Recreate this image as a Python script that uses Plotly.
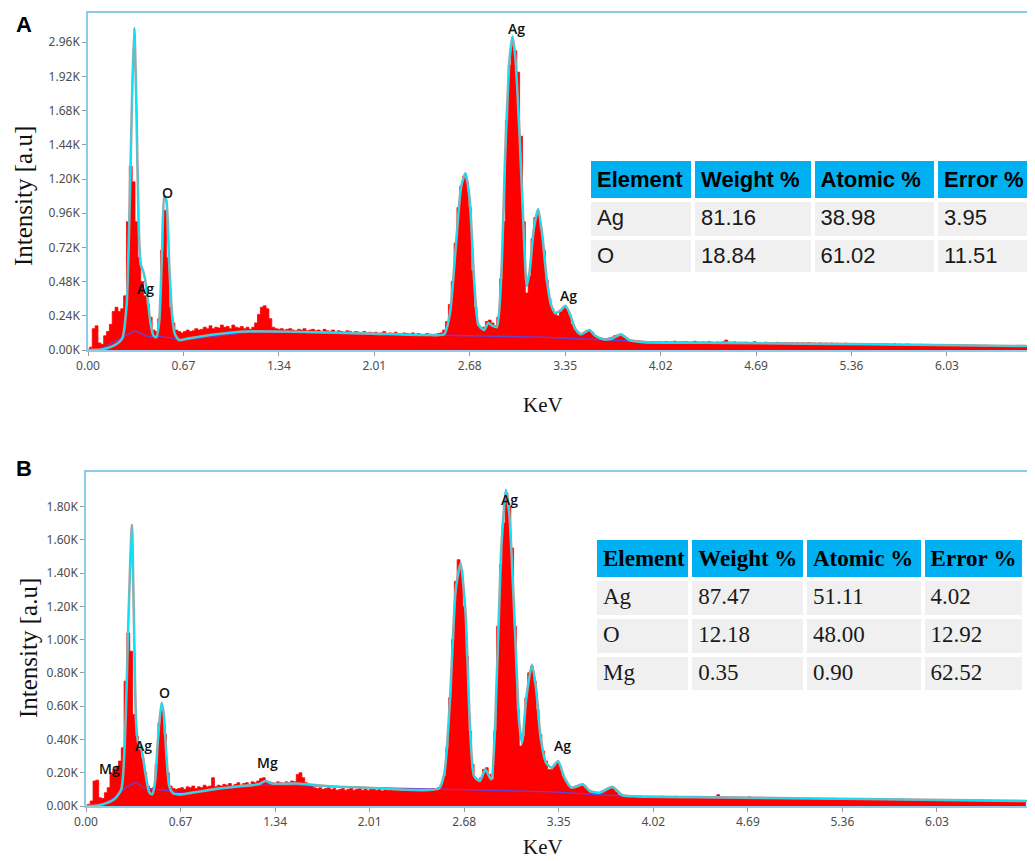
import plotly.graph_objects as go

# ---------------- data ----------------
CHANNEL_START = 0.0   # keV
CHANNEL_WIDTH = 0.02  # keV
# Panel A measured spectrum (counts per channel, channels 0.00 .. 6.66 keV)
counts_a = [
    0, 20, 150, 170, 50, 40, 100, 130, 180, 270,
    300, 270, 290, 380, 900, 1290, 1180, 900, 650, 480,
    380, 320, 230, 140, 130, 220, 700, 980, 650, 300,
    190, 140, 130, 120, 130, 140, 130, 135, 150, 140,
    145, 160, 150, 170, 150, 160, 155, 175, 160, 165,
    150, 175, 160, 155, 165, 150, 160, 145, 160, 190,
    250, 300, 310, 290, 220, 160, 150, 145, 150, 140,
    145, 150, 140, 135, 145, 140, 150, 135, 140, 145,
    135, 140, 130, 145, 135, 130, 140, 125, 135, 130,
    125, 135, 130, 120, 130, 125, 120, 130, 115, 125,
    120, 125, 115, 120, 130, 115, 120, 110, 125, 115,
    110, 120, 115, 110, 120, 105, 115, 110, 105, 115,
    110, 105, 110, 115, 120, 140, 200, 320, 480, 750,
    1000, 1150, 1220, 1180, 1000, 560, 300, 170, 150, 160,
    200, 210, 190, 170, 230, 500, 900, 1610, 2000, 2150,
    2100, 1950, 1500, 900, 400, 520, 780, 930, 970, 850,
    700, 490, 360, 290, 250, 240, 270, 300, 290, 250,
    180, 140, 115, 110, 120, 135, 140, 125, 100, 90,
    85, 80, 80, 85, 90, 100, 105, 110, 100, 80,
    65, 60, 58, 62, 55, 60, 57, 54, 60, 56,
    55, 58, 52, 60, 54, 56, 62, 53, 57, 55,
    58, 54, 52, 61, 55, 53, 57, 52, 59, 54,
    52, 56, 51, 58, 70, 55, 50, 57, 52, 54,
    50, 55, 52, 49, 58, 51, 53, 50, 55, 49,
    52, 48, 54, 50, 47, 53, 49, 51, 46, 52,
    48, 50, 45, 52, 47, 49, 44, 50, 46, 48,
    45, 49, 43, 47, 45, 42, 48, 44, 46, 42,
    44, 41, 46, 42, 40, 45, 41, 43, 39, 44,
    40, 42, 38, 43, 39, 41, 37, 40, 42, 37,
    39, 36, 40, 37, 35, 39, 36, 38, 34, 37,
    35, 33, 37, 34, 32, 36, 33, 31, 35, 32,
    31, 34, 30, 32, 29, 33, 30, 28, 31, 29,
    28, 30, 27, 29, 28, 26, 29, 27, 25, 28,
    26, 25, 26, 24,
]
# Panel B measured spectrum
counts_b = [
    0, 10, 30, 150, 155, 50, 45, 80, 110, 200,
    220, 240, 270, 350, 750, 1040, 930, 550, 420, 340,
    290, 200, 120, 100, 110, 250, 500, 580, 430, 200,
    120, 105, 100, 105, 110, 100, 115, 110, 120, 105,
    115, 110, 125, 115, 120, 170, 115, 125, 120, 130,
    125, 135, 120, 130, 140, 125, 135, 140, 130, 145,
    140, 150, 165, 170, 150, 145, 140, 135, 145, 140,
    135, 145, 140, 150, 145, 190, 200, 170, 140, 130,
    120, 110, 105, 110, 100, 105, 110, 100, 105, 95,
    100, 105, 95, 100, 110, 95, 100, 105, 95, 100,
    95, 100, 105, 95, 100, 90, 100, 95, 105, 95,
    100, 95, 90, 100, 95, 105, 95, 100, 95, 90,
    100, 95, 100, 105, 100, 110, 130, 180, 350, 650,
    1000, 1350, 1480, 1420, 1200, 900, 450, 250, 160, 150,
    170, 220, 230, 190, 160, 450, 1080, 1450, 1700, 1880,
    1800, 1550, 1080, 580, 360, 420, 650, 800, 840, 750,
    580, 430, 330, 270, 220, 220, 240, 260, 240, 180,
    150, 120, 110, 105, 110, 125, 130, 110, 90, 80,
    75, 75, 80, 85, 95, 105, 110, 105, 85, 65,
    60, 57, 62, 55, 58, 54, 60, 56, 53, 58,
    55, 52, 57, 54, 59, 53, 56, 52, 55, 58,
    53, 56, 51, 55, 52, 57, 54, 50, 55, 53,
    51, 55, 50, 53, 68, 52, 49, 54, 51, 50,
    53, 49, 52, 48, 51, 55, 48, 50, 47, 52,
    49, 47, 51, 46, 50, 48, 45, 49, 47, 44,
    48, 45, 47, 44, 46, 43, 47, 45, 42, 46,
    44, 42, 45, 41, 43, 46, 41, 43, 40, 44,
    42, 40, 43, 39, 41, 44, 39, 41, 38, 42,
    40, 38, 41, 37, 40, 36, 39, 41, 37, 38,
    36, 39, 35, 37, 34, 38, 36, 33, 37, 35,
    34, 36, 33, 35, 32, 34, 31, 35, 33, 31,
    33, 30, 32, 29, 31, 33, 30, 28, 31, 29,
    30, 28, 29, 27, 30, 28, 26, 29, 27, 28,
    26, 28, 25, 27,
]

# Fitted envelope (cyan/grey) and background (purple)
fit_a_kev = [0.0, 0.10, 0.18, 0.24, 0.27, 0.29, 0.31, 0.325, 0.34, 0.355, 0.37, 0.385, 0.40, 0.42, 0.44,
             0.46, 0.48, 0.50, 0.52, 0.535, 0.55, 0.57, 0.59, 0.61, 0.64, 0.70, 0.90, 1.10, 1.30, 1.60,
             2.00, 2.40, 2.50, 2.54, 2.58, 2.62, 2.65, 2.68, 2.71, 2.74, 2.78, 2.81, 2.84, 2.87, 2.90,
             2.93, 2.96, 2.98, 3.00, 3.03, 3.06, 3.08, 3.10, 3.13, 3.16, 3.19, 3.22, 3.25, 3.28, 3.32,
             3.35, 3.38, 3.42, 3.46, 3.52, 3.56, 3.62, 3.68, 3.74, 3.80, 3.90, 4.50, 5.50, 6.66]
fit_a_cts = [0, 5, 30, 80, 300, 900, 1800, 2260, 1700, 900, 600, 560, 500, 350, 180,
             100, 90, 200, 700, 1080, 1050, 600, 250, 110, 70, 80, 110, 130, 130, 125,
             115, 105, 110, 250, 700, 1150, 1240, 1050, 500, 180, 140, 190, 170, 160, 500,
             1400, 2050, 2200, 2050, 1500, 800, 450, 550, 850, 990, 800, 500, 320, 260, 280,
             310, 260, 150, 110, 140, 100, 75, 80, 110, 70, 55, 50, 40, 27]
bkg_a_kev = [0.0, 0.08, 0.15, 0.22, 0.28, 0.33, 0.36, 0.42, 0.50, 0.58, 0.64, 0.80, 1.00, 1.13, 1.40,
             2.00, 2.60, 3.20, 3.65, 4.00, 5.00, 6.00, 6.66]
bkg_a_cts = [0, 0, 40, 80, 110, 135, 120, 95, 95, 85, 70, 85, 110, 125, 125,
             115, 105, 90, 70, 55, 45, 35, 27]

fit_b_kev = [0.0, 0.05, 0.12, 0.20, 0.25, 0.28, 0.30, 0.325, 0.34, 0.355, 0.37, 0.39, 0.41, 0.43, 0.45,
             0.47, 0.49, 0.51, 0.535, 0.55, 0.57, 0.59, 0.62, 0.67, 0.90, 1.10, 1.22, 1.27, 1.32, 1.50,
             1.70, 2.00, 2.50, 2.54, 2.58, 2.62, 2.655, 2.69, 2.72, 2.75, 2.79, 2.83, 2.87, 2.90, 2.94,
             2.975, 3.00, 3.04, 3.07, 3.09, 3.12, 3.16, 3.19, 3.22, 3.26, 3.30, 3.345, 3.39, 3.44, 3.52,
             3.57, 3.64, 3.73, 3.80, 3.90, 4.50, 5.50, 6.67]
fit_b_cts = [0, 0, 10, 40, 100, 500, 1100, 1690, 1100, 500, 380, 350, 260, 150, 80,
             70, 150, 400, 620, 560, 300, 120, 75, 70, 100, 120, 130, 150, 135, 135,
             120, 110, 105, 200, 650, 1300, 1460, 1150, 500, 180, 150, 220, 160, 500, 1500,
             1900, 1750, 1050, 500, 380, 650, 850, 700, 420, 260, 230, 270, 170, 110, 130,
             90, 80, 115, 65, 58, 52, 42, 30]
bkg_b_kev = [0.0, 0.10, 0.20, 0.28, 0.36, 0.40, 0.50, 0.60, 0.67, 0.90, 1.20, 1.50, 2.00, 2.60, 3.30,
             3.70, 4.00, 5.00, 6.00, 6.67]
bkg_b_cts = [0, 0, 50, 110, 145, 110, 100, 90, 75, 95, 125, 125, 110, 100, 85,
             65, 55, 45, 35, 30]

# Peak labels
labels_a = ["Ag", "O", "Ag", "Ag"]
labels_a_kev = [0.407, 0.555, 3.005, 3.37]
labels_a_cts = [435, 1105, 2255, 380]
labels_b = ["Mg", "Ag", "O", "Mg", "Ag", "Ag"]
labels_b_kev = [0.17, 0.404, 0.555, 1.283, 3.004, 3.373]
labels_b_cts = [225, 361, 680, 262, 1839, 361]

# Axes ticks
x_ticks = [0.00, 0.67, 1.34, 2.01, 2.68, 3.35, 4.02, 4.69, 5.36, 6.03]
y_ticks_a = [0, 240, 480, 720, 960, 1200, 1440, 1680, 1920, 2160]
y_text_a = ["0.00K", "0.24K", "0.48K", "0.72K", "0.96K", "1.20K", "1.44K", "1.68K", "1.92K", "2.96K"]
y_ticks_b = [0, 200, 400, 600, 800, 1000, 1200, 1400, 1600, 1800]
y_text_b = ["0.00K", "0.20K", "0.40K", "0.60K", "0.80K", "1.00K", "1.20K", "1.40K", "1.60K", "1.80K"]

# Quantification tables
tbl_header = ["Element", "Weight %", "Atomic %", "Error %"]
tbl_a_element = ["Ag", "O"]
tbl_a_weight = ["81.16", "18.84"]
tbl_a_atomic = ["38.98", "61.02"]
tbl_a_error = ["3.95", "11.51"]
tbl_b_element = ["Ag", "O", "Mg"]
tbl_b_weight = ["87.47", "12.18", "0.35"]
tbl_b_atomic = ["51.11", "48.00", "0.90"]
tbl_b_error = ["4.02", "12.92", "62.52"]

# ---------------- figure ----------------
# The page body keeps an 8px margin, so the figure is sized to fit the 1035x861 window exactly.
OX, OY = 8, 8
W, H = 1035 - OX, 861 - OY
energy = [round(CHANNEL_START + CHANNEL_WIDTH * i, 2) for i in range(len(counts_a))]

RED = "#ff0000"
CYAN = "#00e8ff"
GREY = "#a3a3a3"
PURPLE = "#6a3fd2"
FRAME = "#8ecbea"

fig = go.Figure()

def add_panel(counts, fk, fc, bk, bc, xa, ya):
    fig.add_trace(go.Scatter(x=energy, y=counts, mode="lines", line=dict(color=RED, width=0.8, shape="hvh"),
                             fill="tozeroy", fillcolor=RED, xaxis=xa, yaxis=ya, hoverinfo="skip"))
    fig.add_trace(go.Scatter(x=bk, y=bc, mode="lines", line=dict(color=PURPLE, width=1.4),
                             xaxis=xa, yaxis=ya, hoverinfo="skip"))
    fig.add_trace(go.Scatter(x=fk, y=fc, mode="lines", line=dict(color=GREY, width=2.6, shape="spline", smoothing=0.6),
                             xaxis=xa, yaxis=ya, hoverinfo="skip"))
    fig.add_trace(go.Scatter(x=fk, y=fc, mode="lines", line=dict(color=CYAN, width=1.3, shape="spline", smoothing=0.6),
                             xaxis=xa, yaxis=ya, hoverinfo="skip"))

add_panel(counts_a, fit_a_kev, fit_a_cts, bkg_a_kev, bkg_a_cts, "x", "y")
add_panel(counts_b, fit_b_kev, fit_b_cts, bkg_b_kev, bkg_b_cts, "x2", "y2")

def px(x):
    return (x - OX) / W

def py(y):
    return 1 - (y - OY) / H

tick_font = dict(family="Noto Sans", size=12, color="#4d4d4d")
axis_common = dict(showline=True, mirror=True, linecolor=FRAME, linewidth=1.5, showgrid=False, zeroline=False,
                   ticks="outside", ticklen=4, tickcolor="#9a9a9a", tickfont=tick_font, automargin=False)

fig.update_layout(
    width=W, height=H, autosize=False,
    margin=dict(l=0, r=0, t=0, b=0, autoexpand=False),
    paper_bgcolor="white", plot_bgcolor="white", showlegend=False,
    xaxis=dict(domain=[px(88), px(1033)], range=[0, 6.634], anchor="y", tickvals=x_ticks,
               ticktext=[f"{v:.2f}" for v in x_ticks], **axis_common),
    yaxis=dict(domain=[py(350), py(13)], range=[0, 2365], anchor="x", tickvals=y_ticks_a,
               ticktext=y_text_a, **axis_common),
    xaxis2=dict(domain=[px(86), px(1027)], range=[0, 6.668], anchor="y2", tickvals=x_ticks,
                ticktext=[f"{v:.2f}" for v in x_ticks], **axis_common),
    yaxis2=dict(domain=[py(806), py(472)], range=[0, 2007], anchor="x2", tickvals=y_ticks_b,
                ticktext=y_text_b, **axis_common),
)

label_font = dict(family="Open Sans", size=14, color="#111111", weight=600)
for t, x, y in zip(labels_a, labels_a_kev, labels_a_cts):
    fig.add_annotation(x=x, y=y, xref="x", yref="y", text=t, showarrow=False, font=label_font,
                       xanchor="center", yanchor="middle")
for t, x, y in zip(labels_b, labels_b_kev, labels_b_cts):
    fig.add_annotation(x=x, y=y, xref="x2", yref="y2", text=t, showarrow=False, font=label_font,
                       xanchor="center", yanchor="middle")

serif = "Liberation Serif"
for (cx, cy) in [(23, 196), (28, 648)]:
    fig.add_annotation(x=px(cx), y=py(cy), xref="paper", yref="paper", text="Intensity [a.u]",
                       textangle=-90, showarrow=False, xanchor="center", yanchor="middle",
                       font=dict(family=serif, size=25, color="#111111"))
for (cx, cy) in [(543, 405), (543, 847)]:
    fig.add_annotation(x=px(cx), y=py(cy), xref="paper", yref="paper", text="KeV",
                       showarrow=False, xanchor="center", yanchor="middle",
                       font=dict(family=serif, size=21, color="#111111"))
for (t, cx, cy) in [("A", 24, 25), ("B", 24, 468)]:
    fig.add_annotation(x=px(cx), y=py(cy), xref="paper", yref="paper", text=f"<b>{t}</b>",
                       showarrow=False, xanchor="center", yanchor="middle",
                       font=dict(family="Liberation Sans", size=22, color="black"))

HDR = "#00b0f0"
CELL = "#f0f0f0"
hdr_text = [f"<b>{h.replace(' ', chr(160))}</b>" for h in tbl_header]
fig.add_trace(go.Table(
    domain=dict(x=[px(589), px(1035)], y=[py(273), py(159)]),
    columnwidth=[101, 116, 120, 96],
    header=dict(values=hdr_text, fill_color=HDR, align="left",
                line=dict(color="white", width=4), height=37,
                font=dict(family="Liberation Sans", size=22, color="black")),
    cells=dict(values=[tbl_a_element, tbl_a_weight, tbl_a_atomic, tbl_a_error], fill_color=CELL, align="left",
               line=dict(color="white", width=4), height=38,
               font=dict(family="Liberation Sans", size=22, color="#1a1a1a")),
))
fig.add_trace(go.Table(
    domain=dict(x=[px(595), px(1024)], y=[py(690), py(538)]),
    columnwidth=[94, 113, 116, 100],
    header=dict(values=hdr_text, fill_color=HDR, align="left",
                line=dict(color="white", width=4), height=38,
                font=dict(family=serif, size=23, color="black")),
    cells=dict(values=[tbl_b_element, tbl_b_weight, tbl_b_atomic, tbl_b_error], fill_color=CELL, align="left",
               line=dict(color="white", width=4), height=38,
               font=dict(family=serif, size=23, color="#1a1a1a")),
))

fig.write_html("out.html")
